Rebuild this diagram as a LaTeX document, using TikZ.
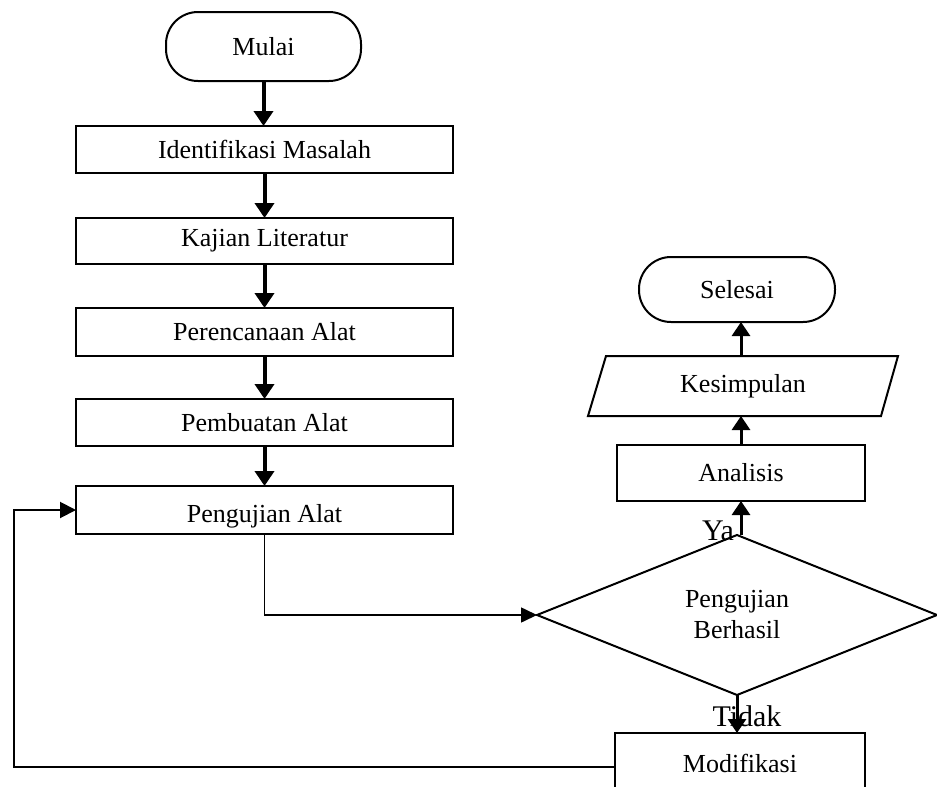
\documentclass[tikz,border=0pt]{standalone}
\usepackage{fontspec}
\setmainfont{Liberation Serif}
\usetikzlibrary{shapes.geometric,arrows.meta}
\begin{document}
\begin{tikzpicture}[x=1pt,y=-1pt,
  box/.style={draw,line width=2pt,rectangle,inner sep=0pt,outer sep=0pt,font=\fontsize{26}{30}\selectfont},
  leftbox/.style={box,minimum width=377pt,minimum height=47pt},
  term/.style={box,rounded corners=32pt},
  bigarrow/.style={line width=4pt,-{Triangle[width=19pt,length=15pt]}},
  midarrow/.style={line width=3pt,-{Triangle[width=18pt,length=14pt]}},
  thinarrow/.style={line width=1.6pt,-{Triangle[width=15pt,length=16pt]}},
  lbl/.style={font=\fontsize{30}{34}\selectfont,inner sep=0pt}]
\useasboundingbox (0,0) rectangle (937,787);
\clip (0,0) rectangle (937,787);
\fill[white] (0,0) rectangle (937,787);
% left column
\node[term,minimum width=195pt,minimum height=69pt] (mulai) at (263.5,46.5) {Mulai};
\node[leftbox,minimum height=47pt] (idm) at (264.5,149.5) {Identifikasi Masalah};
\node[leftbox,minimum height=46pt] (kl) at (264.5,241) {Kajian Literatur};
\node[leftbox,minimum height=48pt] (pca) at (264.5,332) {Perencanaan Alat};
\node[leftbox,minimum height=47pt] (pba) at (264.5,422.5) {Pembuatan Alat};
\node[leftbox,minimum height=48pt] (pga) at (264.5,510) {};
\node[inner sep=0pt,font=\fontsize{26}{30}\selectfont] (pgat) at ([yshift=-6pt]pga.center) {Pengujian Alat};
% right column
\node[term,minimum width=196pt,minimum height=65pt] (sel) at (737,289.5) {Selesai};
\node[inner sep=0pt,outer sep=0pt,minimum width=293pt,minimum height=60pt,font=\fontsize{26}{30}\selectfont] (kes) at (743,386) {Kesimpulan};
\draw[line width=2pt,line join=miter] (588,416) -- (606,356) -- (898,356) -- (881,416) -- cycle;
\node[box,minimum width=248pt,minimum height=56pt] (ana) at (741,473) {Analisis};
\node[box,diamond,minimum width=400pt,minimum height=160pt,align=center,font=\fontsize{26}{31}\selectfont] (dia) at (737,615) {Pengujian\\Berhasil};
\node[box,minimum width=250pt,minimum height=60pt] (mod) at (740,763) {Modifikasi};
% labels
\node[lbl] (ya) at (718,531) {Ya};
\node[lbl] (tidak) at (747,716) {Tidak};
% connectors
\draw[bigarrow] (mulai.south) -- (mulai.south |- idm.north);
\draw[bigarrow] (idm.south) -- (kl.north);
\draw[bigarrow] (kl.south) -- (pca.north);
\draw[bigarrow] (pca.south) -- (pba.north);
\draw[bigarrow] (pba.south) -- (pga.north);
\draw[thinarrow] (pga.south) |- (dia.west);
\draw[midarrow] (dia.north -| ana.south) -- (ana.south);
\draw[midarrow] (ana.north) -- (ana.north |- kes.south);
\draw[midarrow] (ana.north |- kes.north) -- (ana.north |- sel.south);
\draw[midarrow] (dia.south) -- (dia.south |- mod.north);
\coordinate (fb) at (14,767);
\draw[line width=2pt,-{Triangle[width=16pt,length=16pt]}] (mod.west |- fb) -- (fb) |- (pga.west);
\end{tikzpicture}
\end{document}
